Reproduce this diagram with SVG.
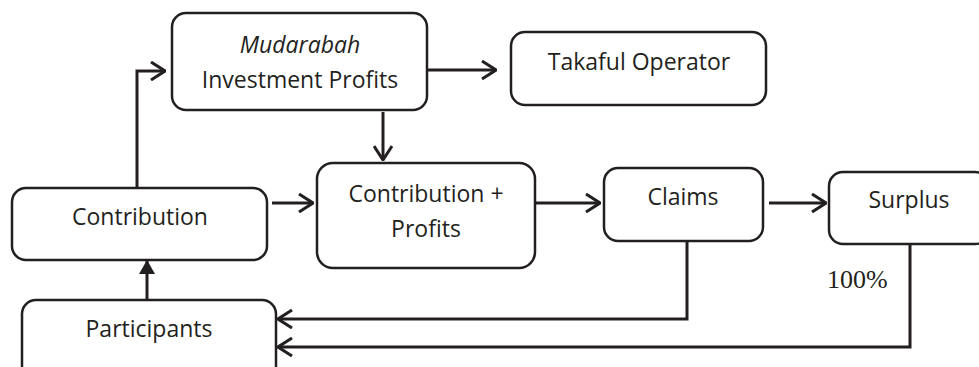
<svg xmlns="http://www.w3.org/2000/svg" width="979" height="367" viewBox="0 0 979 367">
<style>
.box{fill:#fff;stroke:#231f20;stroke-width:2.5}
.t{font-family:"Open Sans","Noto Sans",sans-serif;font-size:23px;fill:#231f20;text-anchor:middle}
.c{fill:none;stroke:#231f20;stroke-width:3}
</style>
<defs>
<marker id="open" viewBox="0 0 16 20" refX="15" refY="10" markerWidth="16" markerHeight="20" markerUnits="userSpaceOnUse" orient="auto">
<path d="M1,1 L15,10 L1,19" fill="none" stroke="#231f20" stroke-width="3"/>
</marker>
<marker id="solid" viewBox="0 0 14 16" refX="13" refY="8" markerWidth="14" markerHeight="16" markerUnits="userSpaceOnUse" orient="auto">
<path d="M0,0 L14,8 L0,16 Z" fill="#231f20"/>
</marker>
</defs>
<g id="connectors">
<path class="c" d="M137,188 V71 H165" marker-end="url(#open)"/>
<path class="c" d="M428,70 H496" marker-end="url(#open)"/>
<path class="c" d="M383,112 V160" marker-end="url(#open)"/>
<path class="c" d="M272,203 H313" marker-end="url(#open)"/>
<path class="c" d="M536,203 H600" marker-end="url(#open)"/>
<path class="c" d="M769,203 H826" marker-end="url(#open)"/>
<path class="c" d="M147,300 V261" marker-end="url(#solid)"/>
<path class="c" d="M687,242 V319 H278" marker-end="url(#open)"/>
<path class="c" d="M910,245 V347 H278" marker-end="url(#open)"/>
</g>
<g id="mudarabah">
<rect class="box" x="172" y="13" width="255" height="97" rx="14"/>
<text class="t" x="300" y="53" font-style="italic">Mudarabah</text>
<text class="t" x="300" y="88">Investment Profits</text>
</g>
<g id="takaful">
<rect class="box" x="511" y="32" width="255" height="73" rx="14"/>
<text class="t" x="639" y="70">Takaful Operator</text>
</g>
<g id="contribution">
<rect class="box" x="12" y="188" width="255" height="72" rx="14"/>
<text class="t" x="140" y="225">Contribution</text>
</g>
<g id="contribprofits">
<rect class="box" x="317" y="163" width="218" height="105" rx="16"/>
<text class="t" x="426" y="202">Contribution +</text>
<text class="t" x="426" y="237">Profits</text>
</g>
<g id="claims">
<rect class="box" x="604" y="168" width="159" height="73" rx="14"/>
<text class="t" x="683" y="205">Claims</text>
</g>
<g id="surplus">
<rect class="box" x="829" y="172" width="160" height="72" rx="14"/>
<text class="t" x="909" y="208">Surplus</text>
</g>
<g id="participants">
<rect class="box" x="22" y="300" width="254" height="90" rx="14"/>
<text class="t" x="149" y="337">Participants</text>
</g>
<text x="827" y="288" font-family="Liberation Serif,serif" font-size="26" fill="#231f20">100%</text>
</svg>
